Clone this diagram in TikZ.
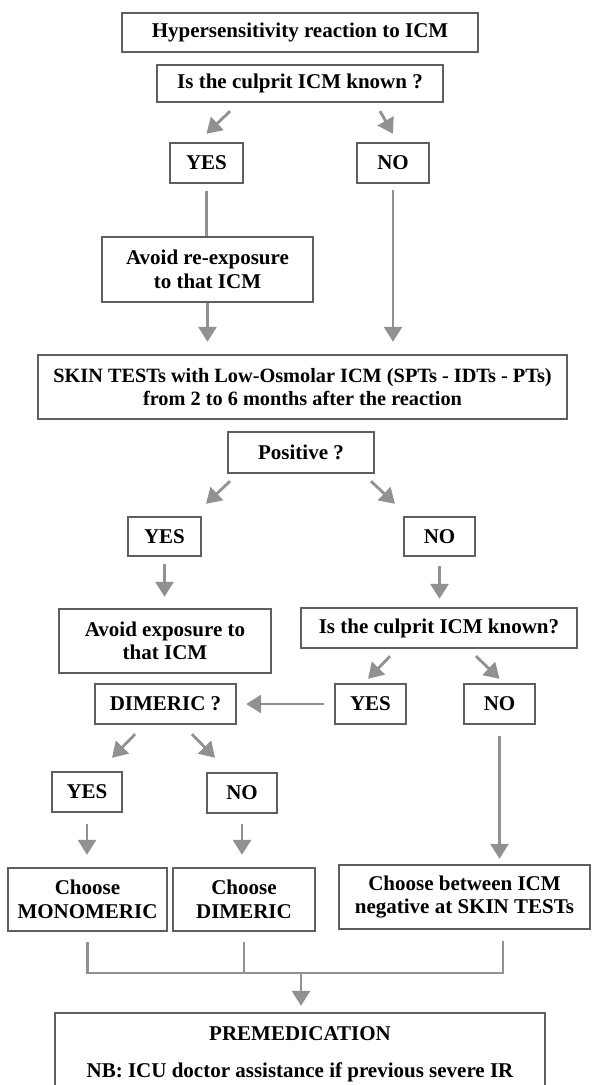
\documentclass[tikz,border=0pt]{standalone}
\usepackage{fontspec}
\setmainfont{Liberation Serif}
\usetikzlibrary{arrows.meta}
\definecolor{boxgray}{RGB}{95,95,95}
\definecolor{arrowgray}{RGB}{145,145,145}

\begin{document}
\begin{tikzpicture}[x = 1pt, y = -1pt,
    box/.style = {draw = boxgray, line width = 2.4pt, inner sep = 0pt, align = center,
      font = \fontsize{21}{23.5}\selectfont\bfseries},
    arr/.style = {draw = arrowgray, line width = 2.8pt, -{Triangle[length = 15pt, width = 18pt]}},
    link/.style = {draw = arrowgray, line width = 2.8pt}]
    \clip (0,0) rectangle (593,1085);
    \node[box, minimum width = 356pt, minimum height = 39pt] (hyp) at (300,32.5) {Hypersensitivity reaction to ICM};
    \node[box, minimum width = 286pt, minimum height = 37pt] (known) at (300,83.5) {Is the culprit ICM known ?};
    \node[box, minimum width = 73pt, minimum height = 40pt] (yesA) at (206.5,163) {YES};
    \node[box, minimum width = 72pt, minimum height = 40pt] (noA) at (393,163) {NO};
    \node[box, minimum width = 211pt, minimum height = 65pt] (avoidA) at (207.5,269.5) {Avoid re-exposure\\to that ICM};
    \node[box, minimum width = 529pt, minimum height = 64pt, font = \fontsize{20.3}{23.5}\selectfont\bfseries] (skin) at (302.5,387) {SKIN TESTs with Low-Osmolar ICM (SPTs - IDTs - PTs)\\from 2 to 6 months after the reaction};
    \node[box, minimum width = 146pt, minimum height = 41pt] (pos) at (301,452.5) {Positive ?};
    \node[box, minimum width = 73pt, minimum height = 39pt] (yesB) at (164.5,536.5) {YES};
    \node[box, minimum width = 71pt, minimum height = 39pt] (noB) at (439.5,536.5) {NO};
    \node[box, minimum width = 212pt, minimum height = 64pt] (avoidB) at (165,641) {Avoid exposure to\\that ICM};
    \node[box, minimum width = 276pt, minimum height = 40pt] (knownB) at (439,628) {Is the culprit ICM known?};
    \node[box, minimum width = 141pt, minimum height = 40pt] (dim) at (165.5,704) {DIMERIC ?};
    \node[box, minimum width = 71pt, minimum height = 40pt] (yesC) at (370.5,704) {YES};
    \node[box, minimum width = 71pt, minimum height = 40pt] (noC) at (499.5,704) {NO};
    \node[box, minimum width = 70pt, minimum height = 40pt] (yesD) at (87,792) {YES};
    \node[box, minimum width = 70pt, minimum height = 40pt] (noD) at (242,793) {NO};
    \node[box, minimum width = 159pt, minimum height = 63pt] (mono) at (87.5,899.5) {Choose\\MONOMERIC};
    \node[box, minimum width = 142pt, minimum height = 63pt] (dimC) at (244,899.5) {Choose\\DIMERIC};
    \node[box, minimum width = 251pt, minimum height = 64pt] (between) at (464.5,897) {Choose between ICM\\negative at SKIN TESTs};
    \node[box, minimum width = 490pt, minimum height = 83pt] (prem) at (300,1054.5) {PREMEDICATION\\[13.5pt]NB: ICU doctor assistance if previous severe IR};
    \coordinate (join) at (301,973);
    % Arrows
    \draw[arr] ([xshift = -70pt, yshift = -8pt]known.south) -- ([yshift = 8pt]yesA.north);
    \draw[arr] ([xshift = 80pt, yshift = -8pt]known.south) -- ([yshift = 8pt]noA.north);
    \draw[link] ([yshift = -7pt]yesA.south) -- (yesA.south |- avoidA.north);
    \draw[arr] (avoidA.south) -- ([yshift = 12pt]avoidA.south |- skin.north);
    \draw[arr] ([yshift = -6pt]noA.south) -- ([yshift = 12pt]noA.south |- skin.north);
    \draw[arr] ([xshift = -71pt, yshift = -7pt]pos.south) -- ([xshift = 41.5pt, yshift = 12pt]yesB.north);
    \draw[arr] ([xshift = 70pt, yshift = -7pt]pos.south) -- ([xshift = -44.5pt, yshift = 12pt]noB.north);
    \draw[arr] ([yshift = -7pt]yesB.south) -- ([yshift = 11pt]yesB.south |- avoidB.north);
    \draw[arr] ([yshift = -9pt]noB.south) -- ([yshift = 8pt]noB.south |- knownB.north);
    \draw[arr] ([xshift = -49pt, yshift = -7pt]knownB.south) -- ([xshift = -2.5pt, yshift = 4pt]yesC.north);
    \draw[arr] ([xshift = 37pt, yshift = -7pt]knownB.south) -- ([yshift = 4pt]noC.north);
    \draw[arr] ([xshift = -10pt]yesC.west) -- ([xshift = 9pt]dim.east);
    \draw[arr] ([yshift = -11pt]noC.south) -- ([yshift = 5pt]noC.south |- between.north);
    \draw[arr] ([xshift = -30.5pt, yshift = -9pt]dim.south) -- ([xshift = 25pt, yshift = 13pt]yesD.north);
    \draw[arr] ([xshift = 26.5pt, yshift = -9pt]dim.south) -- ([xshift = -27pt, yshift = 14pt]noD.north);
    \draw[arr] ([yshift = -11pt]yesD.south) -- ([yshift = 12pt]yesD.south |- mono.north);
    \draw[arr] ([yshift = -10pt]noD.south) -- ([yshift = 12pt]noD.south |- dimC.north);
    % Merge
    \draw[link] ([yshift = -10pt]mono.south) |- (join) -| ([xshift = 38.5pt, yshift = -11pt]between.south);
    \draw[link] ([yshift = -10pt]dimC.south) -- (dimC.south |- join);
    \draw[arr] (join) -- ([yshift = 6pt]join |- prem.north);
\end{tikzpicture}
\end{document}
